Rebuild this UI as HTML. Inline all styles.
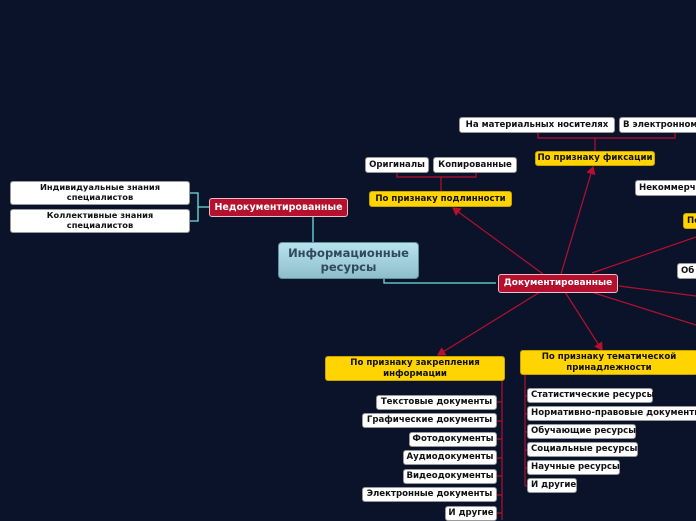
<!DOCTYPE html>
<html><head><meta charset="utf-8"><style>
*{margin:0;padding:0;box-sizing:border-box}
body{width:696px;height:520px;background:#0b132a;overflow:hidden;position:relative;font-family:"DejaVu Sans","Liberation Sans",sans-serif;font-weight:bold}
.n{position:absolute;font-size:8.6px;line-height:1.2;display:flex;align-items:center;justify-content:center;text-align:center;white-space:nowrap;overflow:visible}
.w{background:#fff;color:#111;border:1px solid #999;border-radius:3px}
.y{background:#ffd400;color:#111;border-radius:3px;border:1px solid #c9a400}
.r{background:#b5102e;color:#fff;border:1px solid #e8c0c8;border-radius:3px;font-size:9.5px}
.l{justify-content:flex-start;padding-left:3px}
</style></head><body>
<svg width="696" height="520" style="position:absolute;left:0;top:0">
<defs><marker id="a" markerWidth="8" markerHeight="8" refX="6" refY="4" orient="auto"><path d="M0,0 L7,4 L0,8 z" fill="#b5102e"/></marker></defs>
<g stroke="#6fe0e0" stroke-width="1.3" fill="none">
<path d="M313,216 V242"/>
<path d="M384,279 V283 H496"/>
<path d="M190,193 H198 V221 H190 M198,207 H209"/>
</g>
<g stroke="#b5102e" stroke-width="1.2" fill="none">
<path d="M543,274 L453,208" marker-end="url(#a)"/>
<path d="M561,274 L593,167" marker-end="url(#a)"/>
<path d="M592,273 L696,237"/>
<path d="M619,286 L696,296"/>
<path d="M591,292 L696,325"/>
<path d="M540,292 L438,355" marker-end="url(#a)"/>
<path d="M565,292 L602,350" marker-end="url(#a)"/>
<path d="M397,172 V177 H476 V172 M441,177 V191"/>
<path d="M538,133 V138 H675 V133 M595,138 V151"/>
<path d="M502,381 V520"/>
<path d="M497,402 H502 M497,421 H502 M497,439 H502 M497,458 H502 M497,476 H502 M497,495 H502 M497,513 H502"/>
<path d="M525,375 V486"/>
<path d="M525,396 H528 M525,414 H528 M525,432 H528 M525,450 H528 M525,468 H528 M525,486 H528"/>
</g>
</svg>
<div class="n" style="left:278px;top:242px;width:141px;height:37px;background:linear-gradient(#b8e2ee,#8fbfcc);border:1px solid #5f8f9c;border-radius:4px;color:#2f4a5c;font-size:11.5px;line-height:1.2">Информационные<br>ресурсы</div>
<div class="n r" style="left:209px;top:198px;width:139px;height:19px">Недокументированные</div>
<div class="n r" style="left:498px;top:274px;width:120px;height:19px;font-size:9px">Документированные</div>
<div class="n w" style="left:10px;top:181px;width:180px;height:24px;font-size:8.3px">Индивидуальные знания<br>специалистов</div>
<div class="n w" style="left:10px;top:209px;width:180px;height:24px;font-size:8.3px">Коллективные знания<br>специалистов</div>
<div class="n y" style="left:369px;top:191px;width:143px;height:16px">По признаку подлинности</div>
<div class="n w" style="left:365px;top:157px;width:64px;height:16px">Оригиналы</div>
<div class="n w" style="left:433px;top:157px;width:84px;height:16px">Копированные</div>
<div class="n y" style="left:535px;top:151px;width:120px;height:15px">По признаку фиксации</div>
<div class="n w" style="left:459px;top:117px;width:156px;height:16px">На материальных носителях</div>
<div class="n w l" style="left:619px;top:117px;width:90px;height:16px">В электронном</div>
<div class="n w l" style="left:635px;top:180px;width:70px;height:16px">Некоммерч</div>
<div class="n y l" style="left:683px;top:213px;width:30px;height:16px">По</div>
<div class="n w l" style="left:677px;top:263px;width:30px;height:16px">Об</div>
<div class="n y" style="left:325px;top:356px;width:180px;height:25px">По признаку закрепления<br>информации</div>
<div class="n y" style="left:520px;top:350px;width:178px;height:25px">По признаку тематической<br>принадлежности</div>
<div class="n w" style="left:376px;top:395px;width:121px;height:15px">Текстовые документы</div>
<div class="n w" style="left:362px;top:413px;width:135px;height:15px">Графические документы</div>
<div class="n w" style="left:409px;top:432px;width:88px;height:15px">Фотодокументы</div>
<div class="n w" style="left:403px;top:450px;width:94px;height:15px">Аудиодокументы</div>
<div class="n w" style="left:403px;top:469px;width:94px;height:15px">Видеодокументы</div>
<div class="n w" style="left:362px;top:487px;width:135px;height:15px">Электронные документы</div>
<div class="n w" style="left:445px;top:506px;width:52px;height:15px">И другие</div>
<div class="n w l" style="left:527px;top:388px;width:126px;height:15px">Статистические ресурсы</div>
<div class="n w l" style="left:527px;top:406px;width:180px;height:15px">Нормативно-правовые документы</div>
<div class="n w l" style="left:527px;top:424px;width:109px;height:15px">Обучающие ресурсы</div>
<div class="n w l" style="left:527px;top:442px;width:111px;height:15px">Социальные ресурсы</div>
<div class="n w l" style="left:527px;top:460px;width:93px;height:15px">Научные ресурсы</div>
<div class="n w l" style="left:527px;top:478px;width:50px;height:15px">И другие</div>
</body></html>
